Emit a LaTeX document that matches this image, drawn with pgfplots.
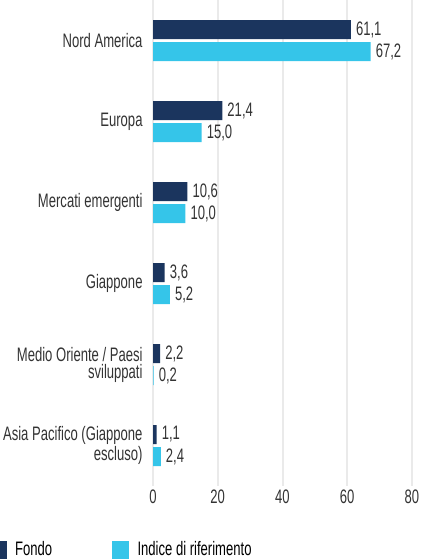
\documentclass[border=0pt]{standalone}
\usepackage{pgfplots}
\pgfplotsset{compat=1.18}
\usepackage{fontspec}
\setmainfont{Liberation Sans}[FakeStretch=0.67]
\definecolor{fondo}{HTML}{1B355E}
\definecolor{indice}{HTML}{35C5E9}
\definecolor{gridc}{HTML}{EAEAEA}
\definecolor{txt}{HTML}{333333}
\begin{document}
\fontsize{19.5pt}{17pt}\selectfont
\begin{tikzpicture}
\useasboundingbox (0,0) rectangle (420pt,-559pt);
\clip (0,0) rectangle (420pt,-559pt);
\begin{axis}[
  at={(153pt,-486pt)}, anchor=south west,
  scale only axis, width=259pt, height=486pt,
  xmin=0, xmax=80, ymin=-0.5, ymax=5.5,
  y dir=reverse,
  xbar, bar width=19pt,
  xtick={0,20,40,60,80},
  ytick={0,1,2,3,4,5},
  yticklabels={Nord America, Europa, Mercati emergenti, Giappone, {Medio Oriente / Paesi\\sviluppati}, {Asia Pacifico (Giappone\\escluso)}},
  yticklabel style={align=right, inner sep=0pt, anchor=east, xshift=-6pt, text=txt},
  xticklabel style={inner sep=0pt, anchor=north, yshift=-4pt, text=txt},
  /pgf/number format/assume math mode=true,
  axis line style={draw=none},
  tick style={draw=none},
  xmajorgrids, grid style={gridc, line width=2pt},
  point meta=x,
  nodes near coords={\pgfmathprintnumber[fixed,fixed zerofill,precision=1,use comma,assume math mode=true]{\pgfplotspointmeta}},
  every node near coord/.append style={anchor=west, inner sep=0pt, xshift=5pt, text=txt},
  legend columns=2,
  legend style={at={(-0.632,-0.109)}, anchor=north west, draw=none, fill=none, inner sep=0pt,
    /tikz/every odd column/.append style={column sep=6.7pt},
    /tikz/every even column/.append style={column sep=57.6pt}},
  legend cell align=left,
  legend image code/.code={\fill[#1] (0pt,-12pt) rectangle (17pt,9pt);},
]
\addplot[fill=fondo, draw=none, bar shift=11pt] coordinates {(61.1,0) (21.4,1) (10.6,2) (3.6,3) (2.2,4) (1.1,5)};
\addplot[fill=indice, draw=none, bar shift=-11pt] coordinates {(67.2,0) (15.0,1) (10.0,2) (5.2,3) (0.2,4) (2.4,5)};
\legend{Fondo, Indice di riferimento}
\end{axis}
\end{tikzpicture}
\end{document}
